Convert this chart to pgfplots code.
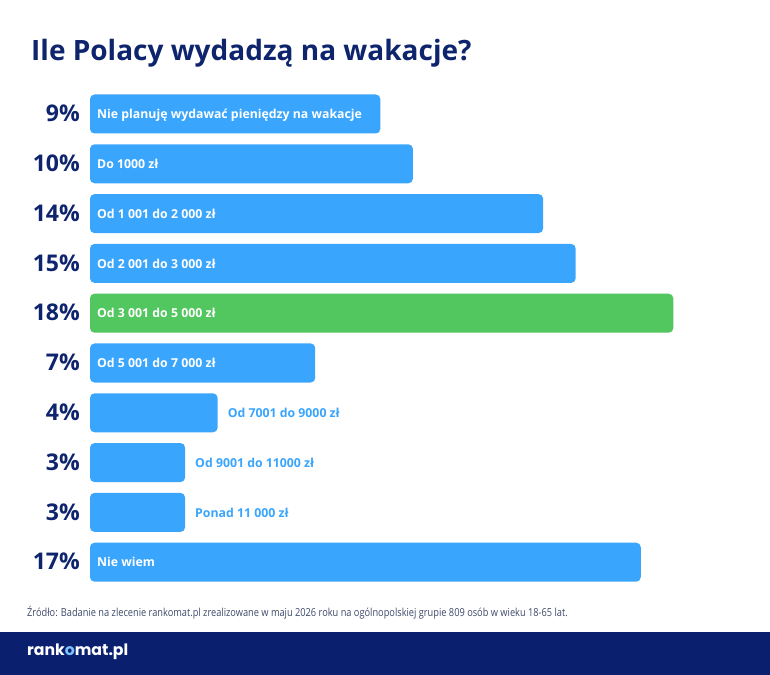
\documentclass[border=0pt]{standalone}
\usepackage{pgfplots}
\pgfplotsset{compat=1.18}
\usepackage{pgfplotstable}
\usepackage{fontspec}
\setmainfont{Open Sans}
\newfontfamily\condfont[FakeStretch=0.84]{Open Sans}
\newfontfamily\logofont{Poppins}

\definecolor{navy}{HTML}{0E246C}
\definecolor{band}{HTML}{0A1F6E}
\definecolor{barblue}{HTML}{3AA5FD}
\definecolor{bargreen}{HTML}{52C65F}
\definecolor{srcgray}{HTML}{3E4A6A}
\definecolor{logoblue}{HTML}{7CC4FF}

% share of answers (%), row 0 at the top
\pgfplotstableread[col sep=comma]{
pos,val
0,9
1,10
2,14
3,15
5,7
6,4
7,3
8,3
9,17
}\bluebars
\pgfplotstableread[col sep=comma]{
pos,val
4,18
}\greenbars
% labels set inside the bars, near the bar base
\pgfplotstableread[col sep=comma]{
pos,lx,label
0,0.2,Nie planuję wydawać pieniędzy na wakacje
1,0.2,Do 1000 zł
2,0.2,Od 1 001 do 2 000 zł
3,0.2,Od 2 001 do 3 000 zł
4,0.2,Od 3 001 do 5 000 zł
5,0.2,Od 5 001 do 7 000 zł
9,0.2,Nie wiem
}\inlabels
% labels set after the short bars
\pgfplotstableread[col sep=comma]{
pos,val,label
6,4,Od 7001 do 9000 zł
7,3,Od 9001 do 11000 zł
8,3,Ponad 11 000 zł
}\outlabels

\begin{document}
\begin{tikzpicture}
\useasboundingbox (0,0) rectangle (770bp,675bp);
\fill[white] (0,0) rectangle (770bp,675bp);
\fill[band] (0,0) rectangle (770bp,43bp);

\node[anchor=base west, inner sep=0, text=navy,
      font=\fontsize{28bp}{32bp}\selectfont\bfseries]
  at (31bp,614.5bp) {Ile Polacy wydadzą na wakacje?};

\node[anchor=base west, inner sep=0, text=srcgray,
      font=\fontsize{11bp}{13bp}\condfont]
  at (27bp,58bp) {Źródło: Badanie na zlecenie rankomat.pl zrealizowane w maju 2026 roku na ogólnopolskiej grupie 809 osób w wieku 18-65 lat.};

\node[anchor=base west, inner sep=0, text=white,
      font=\fontsize{15.7bp}{18bp}\logofont\bfseries]
  at (27bp,19.5bp) {rank{\color{logoblue}o}mat.pl};

\begin{axis}[
  at={(90bp,585.9bp)}, anchor=north west,
  x=32.55bp, y=49.8bp,
  xmin=0.08, xmax=20,
  ymin=-0.5, ymax=9.5, y dir=reverse,
  axis line style={draw=none},
  tick style={draw=none},
  major tick length=0pt,
  xtick=\empty,
  ytick={0,...,9},
  yticklabels={9\%,10\%,14\%,15\%,18\%,7\%,4\%,3\%,3\%,17\%},
  yticklabel style={anchor=base east, inner sep=0pt, xshift=-10bp, yshift=-7.7bp,
    text=navy, font=\fontsize{23bp}{26bp}\selectfont\bfseries},
]
\addplot[xbar, bar width=39bp, bar shift=0pt, fill=barblue, draw=none,
  rounded corners=4.5bp] table[x=val, y=pos] {\bluebars};
\addplot[xbar, bar width=39bp, bar shift=0pt, fill=bargreen, draw=none,
  rounded corners=4.5bp] table[x=val, y=pos] {\greenbars};

\addplot[draw=none, mark=none, point meta=explicit symbolic,
  nodes near coords,
  nodes near coords style={anchor=base west, inner sep=0pt, xshift=3.1bp, yshift=-4.6bp,
    text=white, font=\fontsize{12.3bp}{14bp}\selectfont\bfseries}]
  table[x=lx, y=pos, meta=label] {\inlabels};
\addplot[draw=none, mark=none, point meta=explicit symbolic,
  nodes near coords,
  nodes near coords style={anchor=base west, inner sep=0pt, xshift=10bp, yshift=-4.6bp,
    text=barblue, font=\fontsize{12.3bp}{14bp}\selectfont\bfseries}]
  table[x=val, y=pos, meta=label] {\outlabels};
\end{axis}
\end{tikzpicture}
\end{document}
